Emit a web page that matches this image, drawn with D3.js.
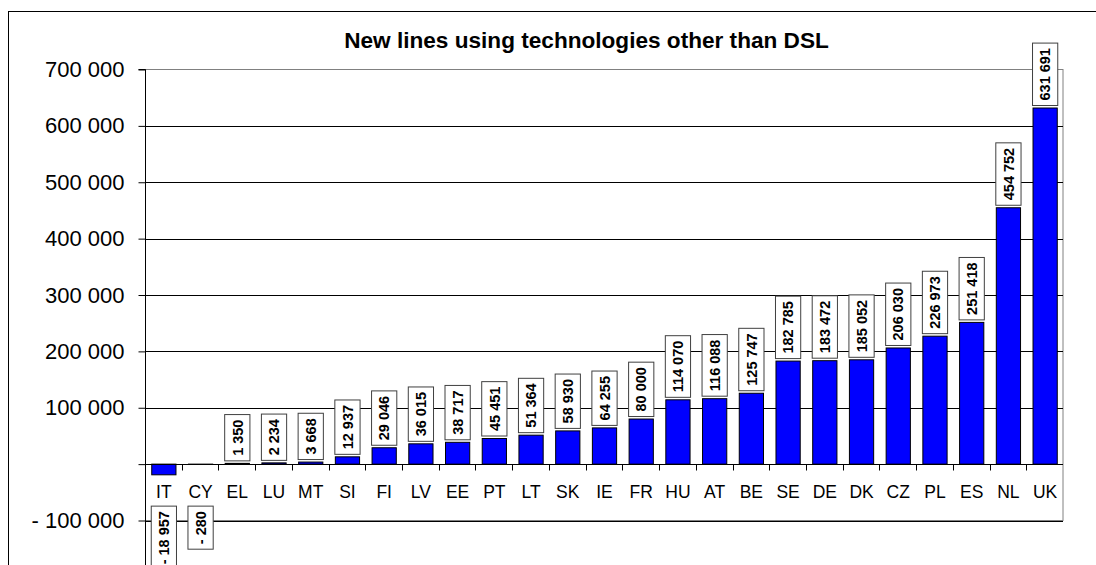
<!DOCTYPE html>
<html>
<head>
<meta charset="utf-8">
<script src="https://cdn.jsdelivr.net/npm/d3@7/dist/d3.min.js"></script>
<style>
  html, body { margin: 0; padding: 0; background: #fff; }
  svg { display: block; font-family: Arial, "Liberation Sans", sans-serif; }
</style>
</head>
<body>
<svg id="chart" width="1096" height="565"></svg>
<script>
const categories = ["IT","CY","EL","LU","MT","SI","FI","LV","EE","PT","LT","SK","IE","FR","HU","AT","BE","SE","DE","DK","CZ","PL","ES","NL","UK"];
const values = [-18957,-280,1350,2234,3668,12937,29046,36015,38717,45451,51364,58930,64255,80000,114070,116088,125747,182785,183472,185052,206030,226973,251418,454752,631691];
const yTicks = [-100000,0,100000,200000,300000,400000,500000,600000,700000];
const yTickLabels = ["- 100 000","","100 000","200 000","300 000","400 000","500 000","600 000","700 000"];
const title = "New lines using technologies other than DSL";

const W = 1096, H = 565;
const margin = {left: 145, right: 33, top: 69.5, bottom: 44.5};
const svg = d3.select("#chart");

const x = d3.scaleBand().domain(categories).range([margin.left, W - margin.right]).paddingInner(0.34).paddingOuter(0.17);
const y = d3.scaleLinear().domain([-100000, 700000]).range([H - margin.bottom, margin.top]);

const fmt = v => {
  const s = d3.format(",")(Math.abs(v)).replace(/,/g, " ");
  return v < 0 ? "- " + s : s;
};

// outer frame
svg.append("rect").attr("x", 8.5).attr("y", 11.5).attr("width", 2000).attr("height", 2000)
  .attr("fill", "none").attr("stroke", "#000").attr("stroke-width", 1);

// title
svg.append("text").attr("x", 586.5).attr("y", 48).attr("text-anchor", "middle")
  .attr("font-size", "22.6px").attr("font-weight", "bold").attr("fill", "#000").text(title);

// plot frame
const x0 = margin.left, x1 = W - margin.right;
svg.append("rect").attr("x", x0 + 0.5).attr("y", y(700000)).attr("width", x1 - x0 - 0.5)
  .attr("height", y(-100000) - y(700000)).attr("fill", "none").attr("stroke", "#808080");

// gridlines
svg.append("g").selectAll("line").data(yTicks.filter(t => t !== 700000)).join("line")
  .attr("x1", x0).attr("x2", x1).attr("y1", d => Math.round(y(d)) + 0.5).attr("y2", d => Math.round(y(d)) + 0.5)
  .attr("stroke", "#000").attr("stroke-width", 1);

// y axis
const yAxis = d3.axisLeft(y).tickValues(yTicks).tickSize(7).tickPadding(14)
  .tickFormat((d, i) => yTickLabels[i]);
const gy = svg.append("g").attr("transform", `translate(${x0 + 0.5},0)`).call(yAxis);
gy.select(".domain").attr("d", `M-7,${y(700000)}H0V${H}`).attr("stroke", "#000");
gy.selectAll(".tick line").attr("stroke", "#000");
gy.selectAll(".tick text").attr("font-size", "22px").attr("fill", "#000").attr("font-family", "Arial, 'Liberation Sans', sans-serif");

// bars
const zeroY = y(0);
svg.append("g").selectAll("rect").data(values).join("rect")
  .attr("x", (d, i) => x(categories[i]) + 0.5)
  .attr("width", x.bandwidth())
  .attr("y", d => Math.min(y(d), zeroY))
  .attr("height", d => Math.abs(y(d) - zeroY))
  .attr("fill", "#0000FF").attr("stroke", "#000").attr("stroke-width", 1);

// category axis
const step = x.step();
const zy = Math.round(zeroY) + 0.5;
svg.append("line").attr("x1", x0).attr("x2", x1).attr("y1", zy).attr("y2", zy).attr("stroke", "#000");
svg.append("g").selectAll("line").data(categories.slice(1)).join("line")
  .attr("x1", d => Math.round(x(d) - step * 0.17) + 0.5).attr("x2", d => Math.round(x(d) - step * 0.17) + 0.5)
  .attr("y1", zy).attr("y2", zy + 6).attr("stroke", "#000");
svg.append("g").selectAll("text").data(categories).join("text")
  .attr("x", d => x(d) + x.bandwidth() / 2 + 0.5).attr("y", zy + 33)
  .attr("text-anchor", "middle").attr("font-size", "17.5px").attr("fill", "#000").text(d => d);

// value labels
const lg = svg.append("g");
values.forEach((v, i) => {
  const g = lg.append("g");
  const cx = x(categories[i]) + x.bandwidth() / 2 + 0.5;
  const t = g.append("text").attr("font-size", "14.5px").attr("font-weight", "bold")
    .attr("text-anchor", "middle").attr("fill", "#000").text(fmt(v));
  const len = t.node().getComputedTextLength();
  const h = len + 10, w = x.bandwidth() + 1;
  const top = v >= 0 ? y(v) - 2.5 - h : zeroY + 42;
  const cy = top + h / 2;
  g.insert("rect", "text").attr("x", cx - w / 2).attr("y", top).attr("width", w).attr("height", h)
    .attr("fill", "#fff").attr("stroke", "#404040").attr("stroke-width", 1);
  t.attr("transform", `translate(${cx + 5.2},${cy}) rotate(-90)`);
});
</script>
</body>
</html>
